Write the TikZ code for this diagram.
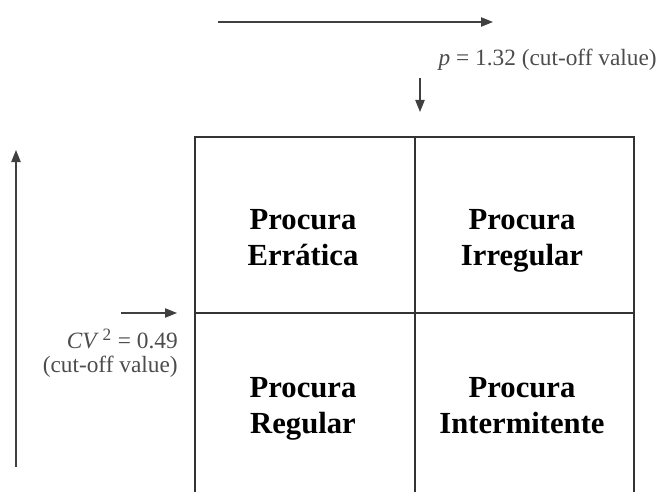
\documentclass[tikz,border=0pt]{standalone}
\usepackage{fontspec}
\setmainfont{Liberation Serif}
\usetikzlibrary{arrows.meta,positioning}

\begin{document}
\begin{tikzpicture}[x=0.75pt,y=-0.75pt,
  cell/.style={rectangle,draw=black!80,line width=1.4pt,inner sep=0pt},
  cname/.style={align=center,inner sep=0pt,font=\fontsize{23pt}{27pt}\selectfont\bfseries},
  cutoff/.style={text=black!70,font=\fontsize{17.5pt}{17.5pt}\selectfont,inner sep=0pt},
  axis/.style={-{Triangle[length=9pt,width=7pt]},draw=black!75,line width=0.9pt}]
\useasboundingbox (0,0) rectangle (661,492);
% the four cells
\node[cell,minimum width=220*0.75pt,minimum height=176*0.75pt](err) at (305,225) {};
\node[cell,minimum width=219*0.75pt,minimum height=176*0.75pt](irr) at (524.5,225) {};
\node[cell,minimum width=220*0.75pt,minimum height=190*0.75pt](reg) at (305,408) {};
\node[cell,minimum width=219*0.75pt,minimum height=190*0.75pt](int) at (524.5,408) {};

\node[cname](terr) at (303,240) {\strut Procura\\\strut Errática};
\node[cname](tirr) at (522,240) {\strut Procura\\\strut Irregular};
\node[cname](treg) at (303,408) {\strut Procura\\\strut Regular};
\node[cname](tint) at (522,408) {\strut Procura\\\strut Intermitente};

% cut-off values
\node[cutoff,anchor=base east](pval) at (657,66) {\textit{p} = 1.32 (cut-off value)};
\node[cutoff,anchor=east,align=right](cvval) at (178,353) {\textit{CV}\,\textsuperscript{\fontsize{13pt}{13pt}\selectfont 2} = 0.49\\(cut-off value)};

\coordinate(h1) at (218,22);
\coordinate(h2) at (493,22);
\coordinate(v1) at (16,467);
\coordinate(v2) at (16,150);
\coordinate(d1) at (420,78);
\coordinate(d2) at (420,112);
\coordinate(s1) at (121,313);
\coordinate(s2) at (177,313);

\draw[axis](h1) -- (h2);
\draw[axis](v1) -- (v2);
\draw[axis](d1) -- (d2);
\draw[axis](s1) -- (s2);
\end{tikzpicture}
\end{document}
